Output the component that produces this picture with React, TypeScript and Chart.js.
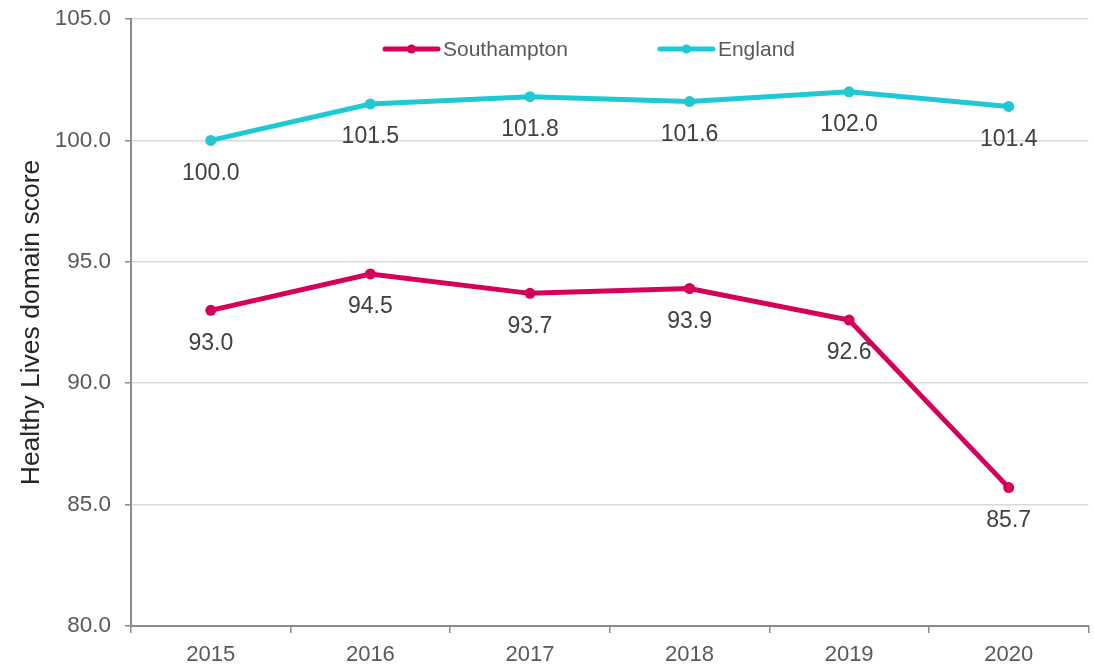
import React, { useEffect, useRef } from "react";
import { Chart, registerables } from "chart.js";

Chart.register(...registerables);

const years = ["2015", "2016", "2017", "2018", "2019", "2020"];
const southampton = [93.0, 94.5, 93.7, 93.9, 92.6, 85.7];
const england = [100.0, 101.5, 101.8, 101.6, 102.0, 101.4];
const seriesNames = ["Southampton", "England"];
const seriesColors = ["#D5005A", "#1FC9D3"];
const yTicks = [80, 85, 90, 95, 100, 105];
const yTitle = "Healthy Lives domain score";

const FONT = "'Liberation Sans', Arial, sans-serif";

const dataLabelPlugin = {
  id: "dataLabels",
  afterDatasetsDraw(chart: any) {
    const ctx = chart.ctx;
    ctx.save();
    ctx.font = `23px ${FONT}`;
    ctx.fillStyle = "#404040";
    ctx.textAlign = "center";
    ctx.textBaseline = "middle";
    chart.data.datasets.forEach((ds: any, i: number) => {
      const meta = chart.getDatasetMeta(i);
      meta.data.forEach((pt: any, j: number) => {
        const v = ds.data[j] as number;
        ctx.fillText(v.toFixed(1), pt.x, pt.y + 33);
      });
    });
    ctx.restore();
  },
};

const legendPlugin = {
  id: "customLegend",
  afterDraw(chart: any) {
    const ctx = chart.ctx;
    const area = chart.chartArea;
    ctx.save();
    ctx.font = `21px ${FONT}`;
    ctx.textBaseline = "middle";
    ctx.textAlign = "left";
    let x = area.left + 252;
    const y = area.top + 30;
    chart.data.datasets.forEach((ds: any) => {
      const c = ds.borderColor;
      ctx.strokeStyle = c;
      ctx.lineWidth = 5;
      ctx.lineCap = "round";
      ctx.beginPath();
      ctx.moveTo(x + 2, y);
      ctx.lineTo(x + 55, y);
      ctx.stroke();
      ctx.fillStyle = c;
      ctx.beginPath();
      ctx.arc(x + 28.5, y, 4.5, 0, Math.PI * 2);
      ctx.fill();
      ctx.fillStyle = "#595959";
      ctx.fillText(ds.label, x + 60, y + 1);
      const w = ctx.measureText(ds.label).width;
      x = x + 60 + w + 90;
    });
    ctx.restore();
  },
};

export default function App() {
  const ref = useRef<HTMLCanvasElement | null>(null);

  useEffect(() => {
    document.body.style.margin = "0";
    const canvas = ref.current;
    if (!canvas) return;
    const chart = new Chart(canvas, {
      type: "line",
      data: {
        labels: years,
        datasets: [southampton, england].map((d, i) => ({
          label: seriesNames[i],
          data: d,
          borderColor: seriesColors[i],
          backgroundColor: seriesColors[i],
          pointBackgroundColor: seriesColors[i],
          pointBorderWidth: 0,
          pointRadius: 5.5,
          borderWidth: 5,
          tension: 0,
          fill: false,
        })),
      },
      options: {
        responsive: false,
        animation: false,
        layout: { padding: { top: 19, right: 5, bottom: 0, left: 0 } },
        plugins: {
          legend: { display: false },
          tooltip: { enabled: false },
        },
        scales: {
          x: {
            type: "category",
            offset: true,
            grid: {
              display: true,
              drawOnChartArea: false,
              drawTicks: true,
              offset: true,
              tickLength: 7,
              color: "#8c8c8c",
              lineWidth: 1.5,
            },
            border: { display: true, color: "#8c8c8c", width: 2 },
            ticks: {
              font: { family: FONT, size: 22 },
              color: "#595959",
              padding: 9,
              maxRotation: 0,
            },
            afterFit(scale: any) {
              scale.height = 40;
              scale.paddingLeft = 0;
              scale.paddingRight = 0;
            },
          },
          y: {
            min: yTicks[0],
            max: yTicks[yTicks.length - 1],
            ticks: {
              stepSize: yTicks[1] - yTicks[0],
              font: { family: FONT, size: 22.5 },
              color: "#595959",
              padding: 14,
              callback: (v: any) => Number(v).toFixed(1),
            },
            grid: {
              color: "#d9d9d9",
              lineWidth: 1.5,
              tickColor: "#8c8c8c",
              tickLength: 6,
            },
            border: { display: true, color: "#8c8c8c", width: 2 },
            title: {
              display: true,
              text: yTitle,
              font: { family: FONT, size: 26.5 },
              color: "#262626",
              padding: { top: 16, bottom: 0 },
            },
            afterFit(scale: any) {
              scale.width = 131;
              scale.paddingTop = 0;
              scale.paddingBottom = 0;
            },
          },
        },
      },
      plugins: [dataLabelPlugin, legendPlugin],
    });
    return () => chart.destroy();
  }, []);

  return (
    <div style={{ position: "absolute", left: 0, top: 0, width: 1094, height: 666 }}>
      <canvas ref={ref} width={1094} height={666} style={{ width: 1094, height: 666 }} />
    </div>
  );
}
